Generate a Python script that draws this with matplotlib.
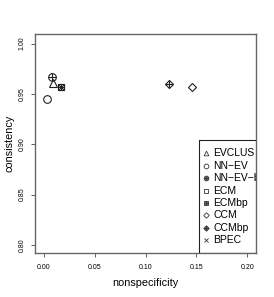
import matplotlib
matplotlib.use("Agg")
import matplotlib.pyplot as plt
from matplotlib.patches import Rectangle

plt.rcParams['font.family'] = ['Liberation Sans', 'DejaVu Sans']

methods = ["EVCLUS", "NN\u2212EV", "NN\u2212EV\u2212b", "ECM", "ECMbp", "CCM", "CCMbp", "BPEC"]
nonspecificity = [0.0094, 0.0035, 0.0085, 0.0173, 0.0173, 0.146, 0.123, 0.0173]
consistency = [0.9605, 0.9454, 0.9666, 0.9567, 0.9567, 0.957, 0.960, 0.9567]
xticks = [0.00, 0.05, 0.10, 0.15, 0.20]
yticks = [0.80, 0.85, 0.90, 0.95, 1.00]

styles = [
    [("^", 5.5)],
    [("o", 5.5)],
    [("o", 5.5), ("+", 5.5)],
    [("s", 5.0)],
    [("s", 5.0), ("+", 5.0)],
    [("D", 4.5)],
    [("D", 4.5), ("+", 5.5)],
    [("x", 4.5)],
]
filled_legend = [False, False, True, False, True, False, True, False]

fig = plt.figure(figsize=(2.74, 2.97), dpi=100)
ax = fig.add_axes([35/274, 1-253/297, (256-35)/274, (253-34)/297])
ax.set_xlim(-0.0085, 0.2085)
ax.set_ylim(0.792, 1.0096)

for st, x, y in zip(styles, nonspecificity, consistency):
    for mk, ms in st:
        ax.plot([x], [y], marker=mk, ms=ms, mfc='none', mec='#222222',
                mew=0.8, ls='none', zorder=3)

ax.set_xticks(xticks)
ax.set_xticklabels([f"{v:.2f}" for v in xticks])
ax.set_yticks(yticks)
ax.set_yticklabels([f"{v:.2f}" for v in yticks], rotation=90, va='center')
ax.tick_params(labelsize=5, length=3, width=0.6, color='#444444')
ax.tick_params(axis='x', pad=5)
ax.tick_params(axis='y', pad=4)
for s in ax.spines.values():
    s.set_color('#666666')
    s.set_linewidth(1.0)
ax.set_xlabel("nonspecificity", fontsize=7.8, labelpad=5)
ax.set_ylabel("consistency", fontsize=7.8, labelpad=3)

# legend drawn manually (bottom right, clipped by the axes)
x0 = (198.7-35)/221
y_top = (253-140)/219
rect = Rectangle((x0, 0), 1.2, y_top, transform=ax.transAxes, fill=False,
                 ec='#222222', lw=0.8, zorder=4, clip_on=True)
ax.add_patch(rect)
ypx = [153.3, 165.7, 178.3, 190.7, 203.0, 215.3, 228.0, 240.3]
for m, st, fl, yp in zip(methods, styles, filled_legend, ypx):
    ya = (253-yp)/219
    for mk, ms in st:
        ax.plot([(205.7-35)/221], [ya], marker=mk, ms=ms*0.62,
                mfc='#777777' if fl else 'none', mec='#333333', mew=0.6,
                ls='none', transform=ax.transAxes, zorder=5, clip_on=False)
    t = ax.text((213.0-35)/221, ya, m, transform=ax.transAxes, fontsize=7.5,
                va='center', ha='left', zorder=5)
    t.set_clip_on(True)
    t.set_clip_box(ax.bbox)

fig.savefig("out.png", dpi=100)
